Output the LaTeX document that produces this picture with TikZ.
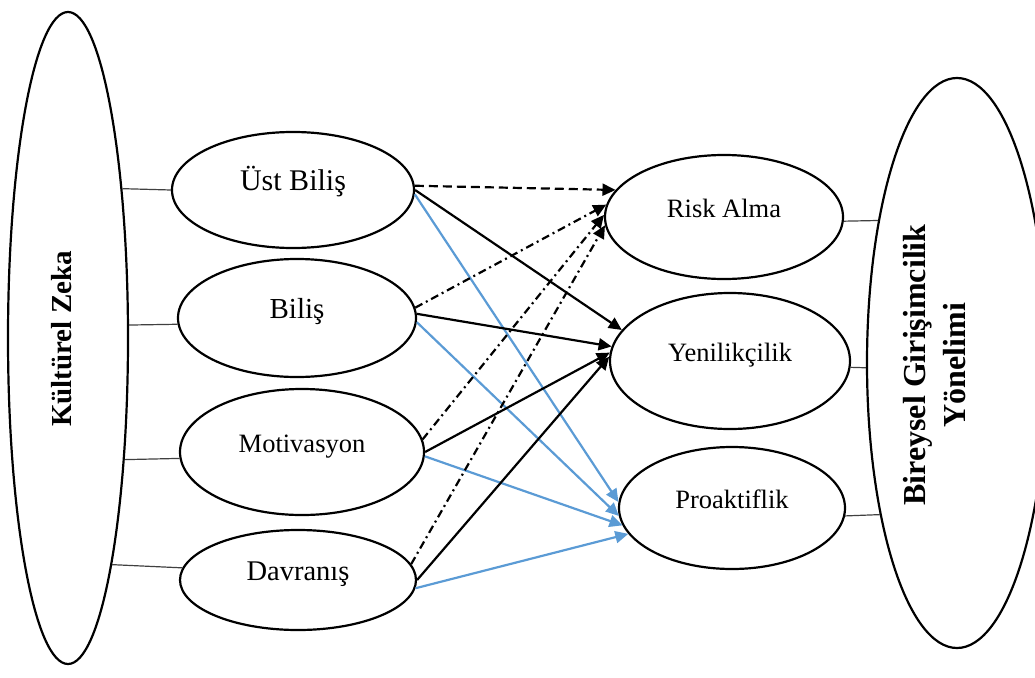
\documentclass[tikz,border=0pt]{standalone}
\usepackage{fontspec}
\setmainfont{Liberation Serif}
\usepackage{xcolor}
\definecolor{kzblue}{HTML}{5B9BD5}
\definecolor{kzgrey}{HTML}{404040}
\usetikzlibrary{arrows.meta,shapes.geometric}
\tikzset{
  kzouter/.style={draw,ellipse,line width=2.2pt,inner sep=0pt},
  kzinner/.style={draw,ellipse,line width=2.2pt,inner sep=0pt,text height=9pt,text depth=9pt},
  kzlabel/.style={rotate=90,align=center,inner sep=0pt},
  kzline/.style={draw=kzgrey,line width=1.2pt},
  kzsolid/.style={-{Triangle[length=13pt,width=12pt]},line width=2.2pt},
  kzdash/.style={kzsolid,dash pattern=on 9pt off 5pt},
  kzdot/.style={kzsolid,dash pattern=on 8pt off 4pt on 2pt off 4pt},
  kzcyan/.style={kzsolid,draw=kzblue},
}

\begin{document}
\begin{tikzpicture}[x=1pt,y=-1pt]
\useasboundingbox (0,0) rectangle (1035,677);
% outer constructs
\node[kzouter,minimum width=120pt,minimum height=652pt] (kz) at (68,338) {};
\node[kzlabel,font=\bfseries\fontsize{29}{34}\selectfont] (kzt) at (62,339) {Kültürel Zeka};
\node[kzouter,minimum width=180pt,minimum height=570pt] (bgy) at (957,363) {};
\node[kzlabel,font=\bfseries\fontsize{32}{40}\selectfont] (bgyt) at (935,365) {Bireysel Girişimcilik\\Yönelimi};
% sub dimensions
\node[kzinner,minimum width=242pt,minimum height=116pt,font=\fontsize{30}{34}\selectfont] (ust) at (293,190) {Üst Biliş};
\node[kzinner,minimum width=238pt,minimum height=118pt,font=\fontsize{29}{34}\selectfont] (bilis) at (297,318) {Biliş};
\node[kzinner,minimum width=244pt,minimum height=126pt,font=\fontsize{26.5}{32}\selectfont] (mot) at (302,452) {Motivasyon};
\node[kzinner,minimum width=236pt,minimum height=100pt,font=\fontsize{28.5}{34}\selectfont] (dav) at (298,580) {Davranış};
\node[kzinner,minimum width=238pt,minimum height=124pt,font=\fontsize{26.5}{32}\selectfont] (risk) at (724,217) {Risk Alma};
\node[kzinner,minimum width=240pt,minimum height=136pt,font=\fontsize{26.5}{32}\selectfont] (yen) at (730,361) {Yenilikçilik};
\node[kzinner,minimum width=226pt,minimum height=122pt,font=\fontsize{26.5}{32}\selectfont] (pro) at (732,508) {Proaktiflik};
% ties to the outer ellipses
\draw[kzline] (kz.70) -- (ust.west);
\draw[kzline] (kz.12) -- (bilis.183);
\draw[kzline] (kz.-65) -- (mot.183);
\draw[kzline] (kz.-79.5) -- (dav.174);
\draw[kzline] (risk.-2) -- (bgy.119);
\draw[kzline] (yen.-3) -- (bgy.183);
\draw[kzline] (pro.-4) -- (bgy.243);
% paths
\draw[kzdash] (ust.2) -- (risk.166);
\draw[kzsolid] (ust.east) -- (yen.164);
\draw[kzcyan] (ust.-2) -- (pro.177);
\draw[kzdot] (bilis.5) -- (risk.174);
\draw[kzsolid] (bilis.2) -- (yen.173);
\draw[kzcyan] (bilis.-2) -- (pro.184);
\draw[kzdot] (mot.6) -- (risk.179);
\draw[kzsolid] (mot.east) -- (yen.176);
\draw[kzcyan] (mot.-2) -- (pro.189);
\draw[kzdot] (dav.8) -- (risk.184);
\draw[kzsolid] (dav.east) -- (yen.178);
\draw[kzcyan] (dav.-4) -- (pro.194);
\end{tikzpicture}
\end{document}
